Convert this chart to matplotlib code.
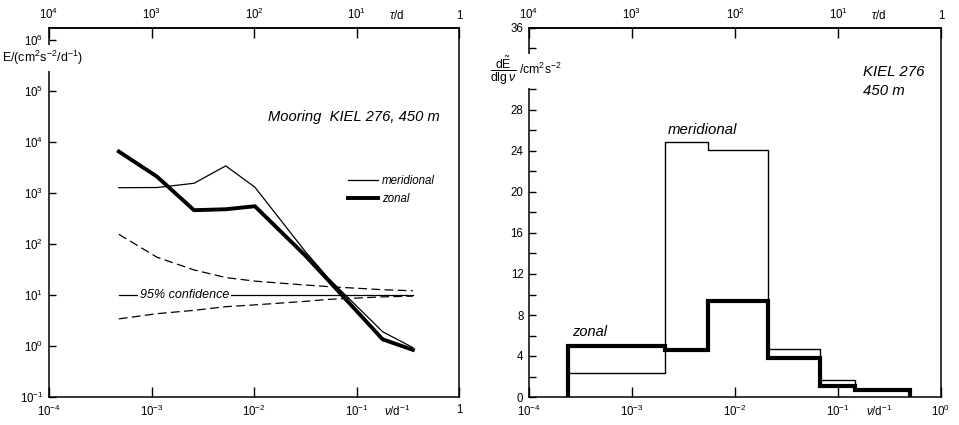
import numpy as np
import matplotlib
matplotlib.use('Agg')
import matplotlib.pyplot as plt
from matplotlib.lines import Line2D

plt.rcParams['font.family'] = ['Liberation Sans', 'DejaVu Sans']
plt.rcParams['mathtext.fontset'] = 'custom'
plt.rcParams['mathtext.rm'] = 'Liberation Sans'
plt.rcParams['mathtext.it'] = 'Liberation Sans:italic'
plt.rcParams['mathtext.bf'] = 'Liberation Sans:bold'
plt.rcParams['mathtext.sf'] = 'Liberation Sans'

# ---------------- data ----------------
nu = [4.8e-4, 1.13e-3, 2.6e-3, 5.3e-3, 1.02e-2, 3.15e-2, 5.3e-2, 1.8e-1, 3.55e-1]
E_meridional = [1.27e3, 1.28e3, 1.55e3, 3.4e3, 1.3e3, 72, 21.5, 1.9, 0.93]
E_zonal = [6.5e3, 2.1e3, 4.6e2, 4.8e2, 5.5e2, 60, 19.5, 1.35, 0.84]
conf_upper = [155, 55, 31, 22, 18.7, 15.7, 14.6, 12.7, 12.1]
conf_lower = [3.4, 4.3, 5.0, 5.9, 6.4, 7.5, 8.2, 9.2, 9.5]
conf_ref = 10

band_edges = [2.4e-4, 2.1e-3, 5.5e-3, 2.1e-2, 6.7e-2, 0.146, 0.5]
dE_meridional = [2.3, 24.9, 24.1, 4.65, 1.65, 0.7]
dE_zonal = [5.0, 4.6, 9.4, 3.8, 1.07, 0.72]

nu_ticks = [1e-4, 1e-3, 1e-2, 1e-1, 1]
nu_labels_left = ['$10^{-4}$', '$10^{-3}$', '$10^{-2}$', '$10^{-1}$', '1']
nu_labels_right = ['$10^{-4}$', '$10^{-3}$', '$10^{-2}$', '$10^{-1}$', '$10^{0}$']
tau_ticks = [1e4, 1e3, 1e2, 1e1, 1]
tau_labels = ['$10^{4}$', '$10^{3}$', '$10^{2}$', '$10^{1}$', '1']
E_ticks = [1e-1, 1e0, 1e1, 1e2, 1e3, 1e4, 1e5, 1e6]
E_labels = ['$10^{-1}$', '$10^{0}$', '$10^{1}$', '$10^{2}$', '$10^{3}$',
            '$10^{4}$', '$10^{5}$', '$10^{6}$']
dE_ticks = [0, 4, 8, 12, 16, 20, 24, 28, 32, 36]
dE_labels = ['0', '4', '8', '12', '16', '20', '24', '28', '', '36']

W, H = 959, 425
fig = plt.figure(figsize=(W / 100, H / 100), dpi=100)
fig.patch.set_facecolor('white')

TICKFS = 8.3
spine_lw = 1.1


def inv(x):
    x = np.asarray(x, dtype=float)
    with np.errstate(divide='ignore'):
        return 1.0 / np.where(x == 0, 1e-30, x)


def style_axes(ax, xlabels):
    ax.set_xscale('log')
    ax.set_xlim(1e-4, 1)
    for s in ax.spines.values():
        s.set_linewidth(spine_lw)
    ax.set_xticks(nu_ticks, labels=xlabels)
    ax.xaxis.set_minor_locator(matplotlib.ticker.NullLocator())
    ax.tick_params(axis='x', which='major', direction='in', length=7, width=1,
                   labelsize=TICKFS, pad=5, top=False)
    sec = ax.secondary_xaxis('top', functions=(inv, inv))
    sec.set_xticks(tau_ticks, labels=tau_labels)
    sec.xaxis.set_minor_locator(matplotlib.ticker.NullLocator())
    sec.tick_params(axis='x', which='major', direction='in', length=7, width=1,
                    labelsize=TICKFS, pad=4)
    sec.spines['top'].set_linewidth(spine_lw)
    # unit labels in the gap between 10^-1 and 1
    ax.annotate(r'$\tau$/d', xy=(10 ** -0.61, 1.0), xycoords=ax.get_xaxis_transform(),
                xytext=(0, 4), textcoords='offset points', ha='center', va='bottom',
                fontsize=TICKFS)
    ax.annotate(r'$\nu$/d$^{-1}$', xy=(10 ** -0.6, 0), xycoords=ax.get_xaxis_transform(),
                xytext=(0, -5), textcoords='offset points', ha='center', va='top',
                fontsize=TICKFS)


# ---------------- left panel ----------------
axL = fig.add_axes([49 / W, (H - 397) / H, (459 - 49) / W, (397 - 28) / H])
axL.set_yscale('log')
axL.set_ylim(1e-1, 10 ** 6.235)
style_axes(axL, nu_labels_left)
axL.set_yticks(E_ticks, labels=E_labels)
axL.yaxis.set_minor_locator(matplotlib.ticker.NullLocator())
axL.tick_params(axis='y', which='major', direction='in', length=5, width=1,
                labelsize=TICKFS, pad=4, right=False)

axL.plot(nu, E_meridional, color='black', lw=0.9, solid_joinstyle='miter', zorder=4)
axL.plot(nu, E_zonal, color='black', lw=2.8, solid_joinstyle='round', zorder=5)
axL.plot(nu, conf_upper, color='black', lw=0.9, dashes=(7, 3.5), zorder=3)
axL.plot(nu, conf_lower, color='black', lw=0.9, dashes=(7, 3.5), zorder=3)
axL.plot([nu[0], nu[-1]], [conf_ref, conf_ref], color='black', lw=0.9, zorder=3)
axL.text(10 ** -3.115, conf_ref, '95% confidence', ha='left', va='center',
         fontsize=9, fontstyle='italic', zorder=3.5,
         bbox=dict(facecolor='white', edgecolor='none', pad=1.2))

axL.text(0.534, 0.759, 'Mooring  KIEL 276, 450 m', transform=axL.transAxes,
         ha='left', va='center', fontsize=10.6, fontstyle='italic')

handles = [Line2D([], [], color='black', lw=0.9), Line2D([], [], color='black', lw=2.8)]
leg = axL.legend(handles, ['meridional', 'zonal'], loc='upper left',
                 bbox_to_anchor=(0.703, 0.63), frameon=False, handlelength=2.6,
                 handletextpad=0.4, labelspacing=0.55,
                 prop={'style': 'italic', 'size': 8.3})

fig.text(2 / W, 1 - 58 / H, r'E/(cm$^2$s$^{-2}$/d$^{-1}$)', ha='left', va='center',
         fontsize=9, zorder=10,
         bbox=dict(facecolor='white', edgecolor='none', pad=2.5))

# ---------------- right panel ----------------
axR = fig.add_axes([529 / W, (H - 397) / H, (941 - 529) / W, (397 - 28) / H])
axR.set_ylim(0, 36)
style_axes(axR, nu_labels_right)
axR.set_yticks(dE_ticks, labels=dE_labels)
axR.set_yticks(np.arange(2, 36, 4), minor=True)
axR.tick_params(axis='y', which='both', direction='in', length=5, width=1,
                labelsize=TICKFS, pad=4, right=False)

axR.stairs(dE_meridional, band_edges, baseline=0, color='black', lw=1.0, zorder=4)
axR.stairs(dE_zonal, band_edges, baseline=0, color='black', lw=3.0, zorder=5)

axR.text(10 ** -2.65, 26.0, 'meridional', ha='left', va='center', fontsize=10.8,
         fontstyle='italic')
axR.text(10 ** -3.58, 6.35, 'zonal', ha='left', va='center', fontsize=10.5,
         fontstyle='italic')
axR.text(10 ** -0.757, 31.7, 'KIEL 276', ha='left', va='center', fontsize=10.8,
         fontstyle='italic')
axR.text(10 ** -0.757, 29.9, '450 m', ha='left', va='center', fontsize=10.8,
         fontstyle='italic')

fig.text(490 / W, 1 - 71 / H,
         r'$\dfrac{\mathrm{d}\tilde{\mathrm{E}}}{\mathrm{dlg}\,\nu}$ /cm$^2$s$^{-2}$',
         ha='left', va='center', fontsize=8.8, zorder=10,
         bbox=dict(facecolor='white', edgecolor='none', pad=1.0))

fig.savefig('out.png', dpi=100, facecolor='white')
